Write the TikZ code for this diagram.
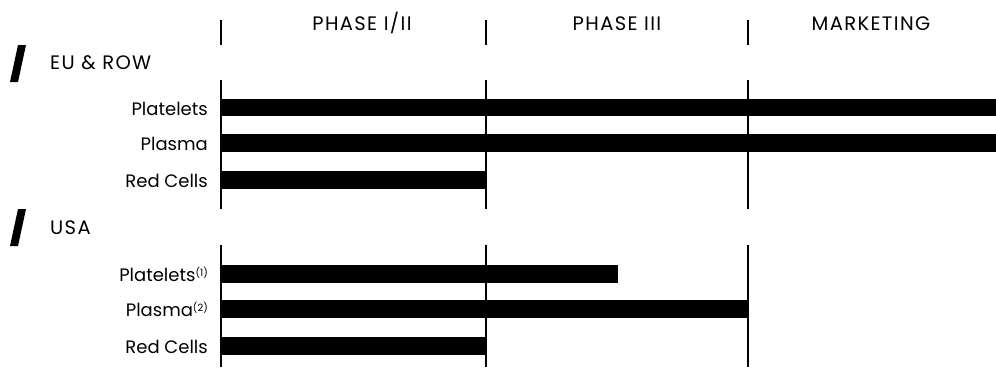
\documentclass[tikz,border=0pt]{standalone}
\usepackage{fontspec}
\setmainfont{Poppins}
\newfontfamily\capsfont[LetterSpace=7]{Poppins}
\begin{document}
\begin{tikzpicture}[x=1pt,y=-1pt,
  phaseline/.style={line width=1.3pt,black},
  bar/.style={fill=black},
  lbl/.style={anchor=base east,inner sep=0pt,font=\fontsize{18}{20}\selectfont},
  hdr/.style={anchor=base,inner sep=0pt,font=\capsfont\fontsize{19.5}{22}\selectfont},
  grp/.style={anchor=base west,inner sep=0pt,font=\capsfont\fontsize{19.5}{22}\selectfont},
  slashmark/.style={fill=black}]
\useasboundingbox (0,0) rectangle (996,367);
% phase boundary x positions
\coordinate (p0) at (221,0);
\coordinate (p1) at (486,0);
\coordinate (p2) at (748,0);
\foreach \p in {p0,p1,p2}{
  \draw[phaseline] (\p |- 0,20) -- (\p |- 0,45);
  \draw[phaseline] (\p |- 0,80) -- (\p |- 0,209);
  \draw[phaseline] (\p |- 0,245) -- (\p |- 0,367);
}
% headers
\node[hdr] (h1) at (362,30) {PHASE I/II};
\node[hdr] (h2) at (617,30) {PHASE III};
\node[hdr] (h3) at (871,30) {MARKETING};
% group slashes and titles
\fill[slashmark] (10,82) -- (18,82) -- (26,45) -- (18,45) -- cycle;
\fill[slashmark] (10,246) -- (18,246) -- (26,209) -- (18,209) -- cycle;
\node[grp] (g1) at (50,69) {EU \& ROW};
\node[grp] (g2) at (50,234) {USA};
% EU bars
\fill[bar] (221,99) rectangle (996,116);
\fill[bar] (221,134) rectangle (996,152);
\fill[bar] (221,171) rectangle (486,189);
\node[lbl] (l1) at (208,115) {Platelets};
\node[lbl] (l2) at (208,150) {Plasma};
\node[lbl] (l3) at (208,187) {Red Cells};
% USA bars
\fill[bar] (221,265) rectangle (618,283);
\fill[bar] (221,300) rectangle (748,318);
\fill[bar] (221,337) rectangle (486,355);
\node[lbl] (l4) at (208,281) {Platelets\raisebox{5pt}{\fontsize{10}{10}\selectfont(1)}};
\node[lbl] (l5) at (208,316) {Plasma\raisebox{5pt}{\fontsize{10}{10}\selectfont(2)}};
\node[lbl] (l6) at (208,353) {Red Cells};
\end{tikzpicture}
\end{document}
